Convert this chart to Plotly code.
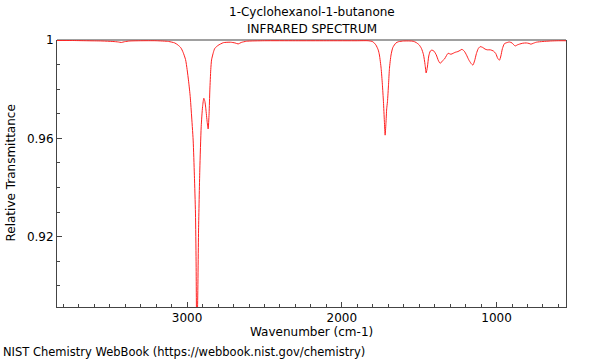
import plotly.graph_objects as go

# Spectrum (wavenumber cm-1, relative transmittance)
wavenumber = [3841, 3750, 3650, 3550, 3480, 3445, 3425, 3405, 3370, 3300, 3200, 3120, 3080, 3060,
              3040, 3026, 3010, 3000, 2990, 2980, 2972, 2961, 2953, 2946, 2942, 2938, 2933, 2926,
              2918, 2909, 2900, 2892, 2885, 2879, 2870, 2864, 2858, 2853, 2847, 2842, 2830, 2821,
              2800, 2766, 2720, 2690, 2670, 2650, 2616, 2500, 2300, 2100, 1900, 1830, 1800, 1780,
              1765, 1757, 1746, 1738, 1731, 1725, 1720, 1715, 1710, 1705, 1698, 1692, 1682, 1670,
              1650, 1634, 1600, 1560, 1539, 1520, 1500, 1485, 1472, 1462, 1455, 1447, 1438, 1428,
              1418, 1405, 1390, 1375, 1364, 1350, 1336, 1325, 1313, 1295, 1280, 1267, 1250, 1235,
              1224, 1209, 1195, 1180, 1165, 1153, 1142, 1130, 1118, 1106, 1090, 1074, 1060, 1040,
              1020, 1005, 992, 981, 972, 962, 949, 930, 917, 900, 885, 878, 866, 853, 830, 808,
              790, 778, 765, 743, 700, 650, 600, 551]
transmittance = [0.9998, 0.9998, 0.9997, 0.9996, 0.9994, 0.9992, 0.9990, 0.9993, 0.9996, 0.9997,
                 0.9997, 0.9994, 0.9988, 0.9980, 0.9968, 0.9950, 0.9920, 0.9880, 0.9830, 0.9770,
                 0.9700, 0.9593, 0.9450, 0.9296, 0.9100, 0.8840, 0.8900, 0.9227, 0.9471, 0.9647,
                 0.9729, 0.9763, 0.9750, 0.9720, 0.9665, 0.9638, 0.9700, 0.9797, 0.9880, 0.9919,
                 0.9950, 0.9966, 0.9978, 0.9989, 0.9991, 0.9988, 0.9984, 0.9990, 0.9995, 0.9997,
                 0.9997, 0.9997, 0.9997, 0.9997, 0.9993, 0.9980, 0.9960, 0.9939, 0.9885, 0.9820,
                 0.9749, 0.9670, 0.9613, 0.9660, 0.9720, 0.9749, 0.9820, 0.9885, 0.9939, 0.9970,
                 0.9988, 0.9993, 0.9996, 0.9996, 0.9995, 0.9990, 0.9980, 0.9965, 0.9940, 0.9900,
                 0.9866, 0.9890, 0.9935, 0.9955, 0.9959, 0.9955, 0.9940, 0.9915, 0.9905, 0.9915,
                 0.9923, 0.9935, 0.9946, 0.9942, 0.9946, 0.9950, 0.9953, 0.9958, 0.9962, 0.9955,
                 0.9940, 0.9920, 0.9905, 0.9898, 0.9915, 0.9945, 0.9965, 0.9973, 0.9970, 0.9963,
                 0.9960, 0.9960, 0.9955, 0.9945, 0.9925, 0.9918, 0.9935, 0.9965, 0.9985, 0.9990,
                 0.9992, 0.9988, 0.9978, 0.9976, 0.9980, 0.9983, 0.9987, 0.9988, 0.9986, 0.9983,
                 0.9986, 0.9991, 0.9994, 0.9996, 0.9997, 0.9997]

x_tickvals = [3000, 2000, 1000]
x_ticktext = ["3000", "2000", "1000"]
y_tickvals = [1.0, 0.96, 0.92]
y_ticktext = ["1", "0.96", "0.92"]

title_line1 = "1-Cyclohexanol-1-butanone"
title_line2 = "INFRARED SPECTRUM"
x_title = "Wavenumber (cm-1)"
y_title = "Relative Transmittance"
footer = "NIST Chemistry WebBook (https://webbook.nist.gov/chemistry)"

FONT = "DejaVu Sans"
L_MARGIN = 57

fig = go.Figure()
fig.add_trace(go.Scatter(x=wavenumber, y=transmittance, mode="lines",
                         line=dict(color="#ff2020", width=1, shape="spline", smoothing=0.6),
                         hoverinfo="x+y", showlegend=False))

axis_color = "#444444"
fig.update_layout(
    width=600, height=360,
    margin=dict(l=L_MARGIN, r=34, t=40, b=53),
    paper_bgcolor="white", plot_bgcolor="white",
    font=dict(family=FONT, size=12, color="black"),
    xaxis=dict(range=[3841, 551], tickmode="array", tickvals=x_tickvals, ticktext=x_ticktext,
               ticks="inside", ticklen=5, tickcolor=axis_color, showline=True, linecolor=axis_color,
               linewidth=1, showgrid=False, zeroline=False,
               minor=dict(dtick=100, ticks="inside", ticklen=3, tickcolor=axis_color, showgrid=False)),
    yaxis=dict(range=[0.8914, 1.0], tickmode="array", tickvals=y_tickvals, ticktext=y_ticktext,
               ticks="inside", ticklen=5, tickcolor=axis_color, showline=True, linecolor=axis_color,
               linewidth=1, mirror=True, showgrid=False, zeroline=False,
               minor=dict(dtick=0.01, tick0=1.0, ticks="inside", ticklen=3, tickcolor=axis_color, showgrid=False)),
    shapes=[dict(type="line", xref="paper", yref="paper", x0=0, x1=1, y0=1, y1=1,
                 line=dict(color="#a0a0a0", width=2), layer="below")],
    annotations=[
        dict(text=title_line1, xref="paper", yref="paper", x=0.5, y=1, yshift=28,
             xanchor="center", yanchor="middle", showarrow=False, font=dict(size=12)),
        dict(text=title_line2, xref="paper", yref="paper", x=0.5, y=1, yshift=11,
             xanchor="center", yanchor="middle", showarrow=False, font=dict(size=12)),
        dict(text=x_title, xref="paper", yref="paper", x=0.5, y=0, yshift=-25,
             xanchor="center", yanchor="middle", showarrow=False, font=dict(size=12)),
        dict(text=y_title, xref="paper", yref="paper", x=0, y=0.5, xshift=10 - L_MARGIN,
             xanchor="center", yanchor="middle", textangle=-90, showarrow=False, font=dict(size=12)),
        dict(text=footer, xref="paper", yref="paper", x=0, y=0, xshift=-L_MARGIN + 1, yshift=-45,
             xanchor="left", yanchor="middle", showarrow=False, font=dict(size=11.5)),
    ],
)

fig.write_html("out.html", config={"displayModeBar": False},
               post_script="document.body.style.margin='0';")
